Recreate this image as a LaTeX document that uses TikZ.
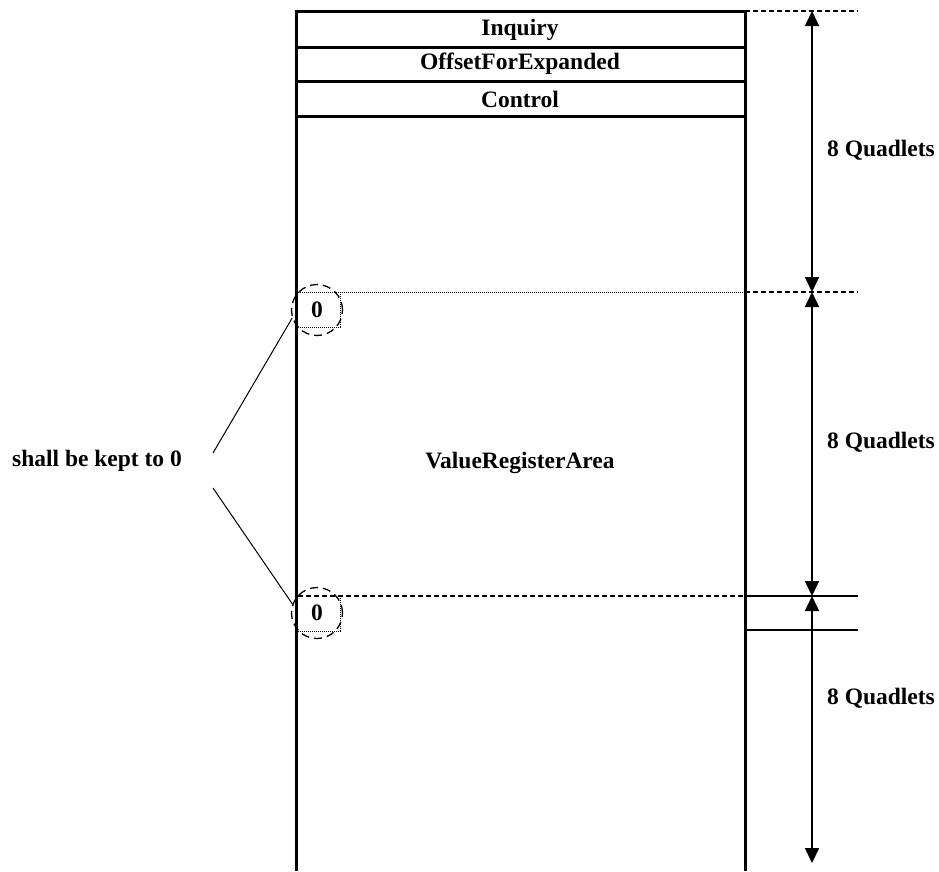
\documentclass[tikz,border=0pt]{standalone}
\usepackage{fontspec}
\setmainfont{Liberation Serif}
\usetikzlibrary{arrows.meta}
\def\firstzero{(298,292) -- (340,292) -- (340,327) -- (298,327)}
\def\secondzero{(340,596) -- (340,631) -- (298,631)}

\begin{document}
\begin{tikzpicture}[x=1pt,y=-1pt,
    label/.style={font=\bfseries\fontsize{23.5}{26}\selectfont,inner sep=0pt},
    wall/.style={line width=3pt},
    span/.style={line width=1.6pt,{Triangle[length=15pt,width=14pt]}-{Triangle[length=15pt,width=14pt]}},
    zeroring/.style={circle,draw,dash pattern=on 8pt off 5pt,line width=1.3pt,minimum size=51pt,inner sep=0pt},
    guide/.style={dash pattern=on 5pt off 3pt,line width=1.5pt}]
  \useasboundingbox (0,0) rectangle (939,871);
  % register block
  \draw[wall] (296,871) -- (296,11) -- (745,11) -- (745,871);
  \draw[wall] (296,47) -- (745,47);
  \draw[wall] (296,81) -- (745,81);
  \draw[wall] (296,116) -- (745,116);
  \node[label] (inquiry) at (520,30) {Inquiry};
  \node[label] (offset) at (520,64) {OffsetForExpanded};
  \node[label] (control) at (520,99) {Control};
  \node[label] (area) at (520,463) {ValueRegisterArea};
  % zero bits
  \draw[densely dotted,line width=1pt] \firstzero;
  \draw[densely dotted,line width=1pt] (340,292) -- (745,292);
  \draw[densely dotted,line width=1pt] \secondzero;
  \draw[guide] (298,596) -- (745,596);
  \node[label] (zeroa) at (317,310) {0};
  \node[label] (zerob) at (317,613) {0};
  \node[zeroring] (ringa) at (317,310) {};
  \node[zeroring] (ringb) at (317,613) {};
  \node[label] (keep) at (97,461) {shall be kept to 0};
  \coordinate (keepa) at (213,453);
  \coordinate (keepb) at (213,488);
  \draw[line width=1pt] (keepa) -- (ringa.198);
  \draw[line width=1pt] (keepb) -- (ringb.160);
  % quadlet marks
  \coordinate (marka) at (812,11);
  \coordinate (markb) at (812,292);
  \coordinate (markc) at (812,596);
  \coordinate (markd) at (812,863);
  \draw[guide] (745,11) -- (858,11);
  \draw[guide] (745,292) -- (858,292);
  \draw[line width=1.5pt] (745,596) -- (858,596);
  \draw[line width=1.5pt] (745,630) -- (858,630);
  \draw[span] (marka) -- (markb);
  \draw[span] (markb) -- (markc);
  \draw[span] (markc) -- (markd);
  \node[label] (quada) at (881,150) {8 Quadlets};
  \node[label] (quadb) at (881,442) {8 Quadlets};
  \node[label] (quadc) at (881,698) {8 Quadlets};
\end{tikzpicture}
\end{document}
